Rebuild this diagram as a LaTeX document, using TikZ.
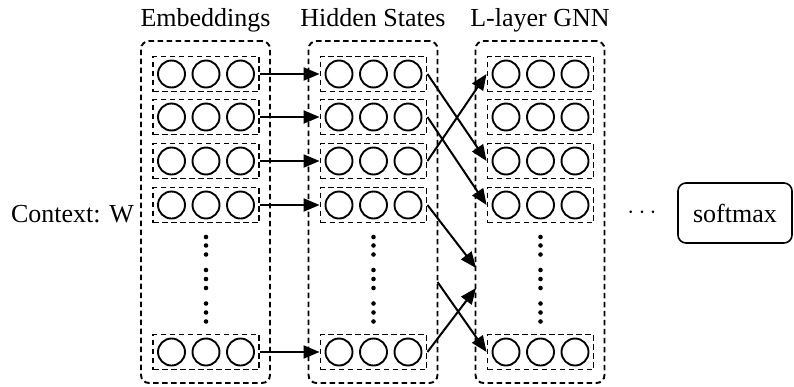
\documentclass[tikz,border=0pt]{standalone}
\usepackage{fontspec}
\setmainfont{Liberation Serif}
\usepackage{tikz}
\usetikzlibrary{arrows.meta, positioning}

\newcommand{\cellrow}[3]{%
    \node[rowbox] (#1) at (#2, #3) {};
    \node[unit] (#1a) at (#2 - 34.5, #3) {};
    \node[unit] (#1b) at (#2, #3) {};
    \node[unit] (#1c) at (#2 + 34.5, #3) {};
}

\begin{document}
\begin{tikzpicture}[x = 1pt, y = -1pt,
        dashline/.style = {dash pattern = on 5.5pt off 3.5pt},
        colbox/.style = {draw, dashline, line width = 1.9pt, rounded corners = 8pt, minimum width = 129pt, minimum height = 342pt, inner sep = 0pt},
        rowbox/.style = {draw, dashline, line width = 1.9pt, minimum width = 106pt, minimum height = 35pt, inner sep = 0pt},
        unit/.style = {draw, circle, line width = 1.9pt, minimum size = 27pt, inner sep = 0pt},
        label/.style = {font = \fontsize{26}{30}\selectfont, inner sep = 0pt},
        link/.style = {black, line width = 2pt, -{Triangle[length = 16pt, width = 13pt]}}]
            \useasboundingbox (0, 0) rectangle (794, 386);
            
            \node[colbox] (embcol) at (205.5, 212) {};
            \node[colbox] (hidcol) at (373, 212) {};
            \node[colbox] (gnncol) at (540, 212) {};
            
            \node[label, anchor = base] (embtitle) at (205.5, 26) {Embeddings};
            \node[label, anchor = base] (hidtitle) at (373, 26) {Hidden States};
            \node[label, anchor = base] (gnntitle) at (540, 26) {L-layer GNN};
            \node[label, anchor = base east] (context) at (134, 222) {Context: W};
            
            \cellrow{e1}{206}{74}
            \cellrow{e2}{206}{117}
            \cellrow{e3}{206}{161}
            \cellrow{e4}{206}{205}
            \cellrow{e5}{206}{352}
            
            \cellrow{h1}{373.5}{74}
            \cellrow{h2}{373.5}{117}
            \cellrow{h3}{373.5}{161}
            \cellrow{h4}{373.5}{205}
            \cellrow{h5}{373.5}{352}
            
            \cellrow{g1}{540.5}{74}
            \cellrow{g2}{540.5}{117}
            \cellrow{g3}{540.5}{161}
            \cellrow{g4}{540.5}{205}
            \cellrow{g5}{540.5}{352}
            
            \foreach \x in {206, 373.5, 540.5}
                \foreach \y in {237, 245.5, 254.5, 270, 279, 288, 303.5, 312.5, 321.5}
                    \fill (\x, \y) circle (2.3pt);
            
            \foreach \i in {1, 2, 3, 4, 5}
                \draw[link] (e\i.east) -- (h\i.west);
            
            \coordinate (gin1) at (476, 268);
            \coordinate (gin2) at (476, 288);
            \coordinate (hout) at (437.5, 282);
            
            \draw[link] (h1.east) -- (g3.west);
            \draw[link] (h2.east) -- (g4.west);
            \draw[link] (h3.east) -- (g1.west);
            \draw[link] (h4.east) -- (gin1);
            \draw[link] (hout) -- (g5.west);
            \draw[link] (h5.east) -- (gin2);
            
            \node[label, font = \fontsize{24}{28}\selectfont] (dots) at (642, 213) {$\cdots$};
            \node[label, draw, line width = 1.6pt, rounded corners = 8pt, minimum width = 114pt, minimum height = 60pt] (softmax) at (735, 213) {softmax};
        \end{tikzpicture}
\end{document}
